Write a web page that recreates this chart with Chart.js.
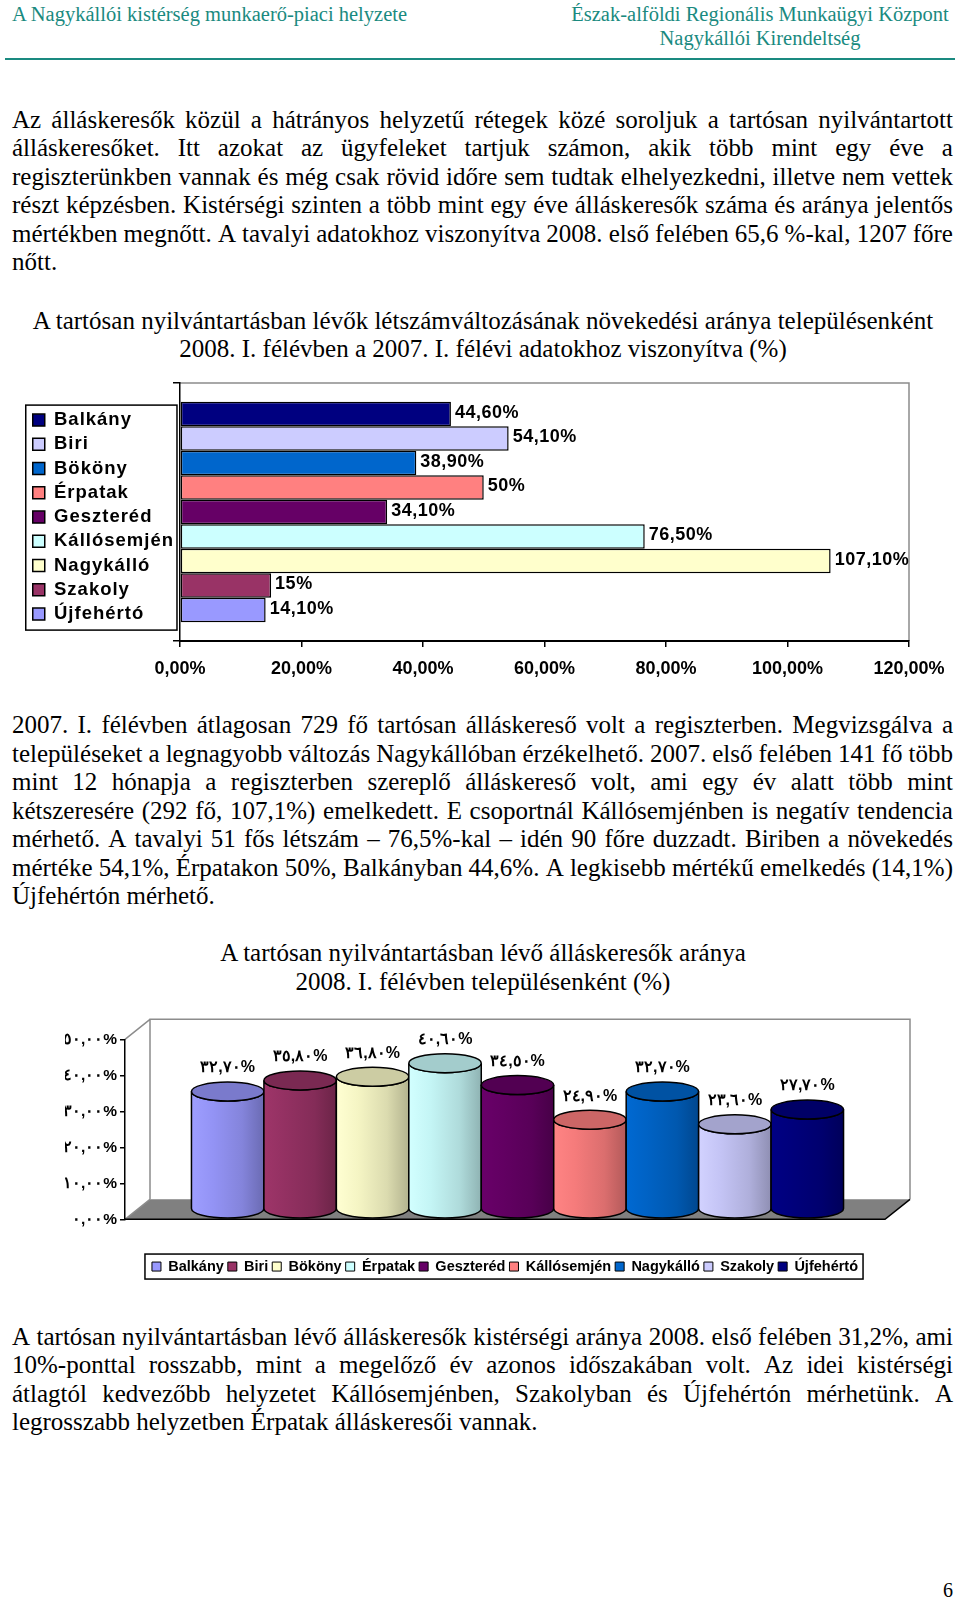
<!DOCTYPE html>
<html lang="hu">
<head>
<meta charset="utf-8">
<title>A Nagykállói kistérség munkaerő-piaci helyzete</title>
<script src="https://cdn.jsdelivr.net/npm/chart.js@4.4.1/dist/chart.umd.min.js"></script>
<style>
  html, body { margin: 0; padding: 0; background: #fff; }
  body {
    width: 960px; height: 1598px; position: relative; overflow: hidden;
    font-family: "Liberation Serif", "Times New Roman", serif; color: #000;
  }
  .abs { position: absolute; }
  .head { color: #1a8a80; font-size: 20.5px; line-height: 24.4px; white-space: nowrap; }
  .rule { left: 5px; width: 950px; top: 58px; height: 2px; background: #1a8a80; }
  .para { left: 12px; width: 941px; font-size: 25px; line-height: 28.55px; }
  .para .line { height: 28.55px; white-space: nowrap; }
  .para .line.justify { display: flex; justify-content: space-between; }
  .title { left: 0; width: 966px; text-align: center; font-size: 25px; line-height: 28.55px; white-space: nowrap; }
  canvas { display: block; }
</style>
</head>
<body>
<div class="abs head" style="left:12px; top:2px;">A Nagykállói kistérség munkaerő-piaci helyzete</div>
<div class="abs head" style="left:560px; top:2px; width:400px; text-align:center;">Észak-alföldi Regionális Munkaügyi Központ<br>Nagykállói Kirendeltség</div>
<div class="abs rule"></div>

<div id="para1" class="abs para" style="top:105.5px;"></div>

<div class="abs title" style="top:306.5px;">A tartósan nyilvántartásban lévők létszámváltozásának növekedési aránya településenként<br>2008. I. félévben a 2007. I. félévi adatokhoz viszonyítva (%)</div>

<div class="abs" style="left:0; top:370px;"><canvas id="growth-chart" width="960" height="320"></canvas></div>

<div id="para2" class="abs para" style="top:711px;"></div>

<div class="abs title" style="top:939px;">A tartósan nyilvántartásban lévő álláskeresők aránya<br>2008. I. félévben településenként (%)</div>

<div class="abs" style="left:0; top:1000px;"><canvas id="share-chart" width="960" height="290"></canvas></div>

<div id="para3" class="abs para" style="top:1322.5px;"></div>

<div class="abs" style="left:897px; top:1578px; width:56px; text-align:right; font-size:20px; line-height:24px;">6</div>

<script>
/* global Chart */

// Settlements of the micro-region, in the order both charts list them.
const TOWNS = [
  "Balkány",
  "Biri",
  "Bököny",
  "Érpatak",
  "Geszteréd",
  "Kállósemjén",
  "Nagykálló",
  "Szakoly",
  "Újfehértó",
];

// Chart 1: growth of long-term job seekers, 2008 H1 vs 2007 H1 (%).
const GROWTH_VALUES = [44.6, 54.1, 38.9, 50, 34.1, 76.5, 107.1, 15, 14.1];
const GROWTH_COLORS = [
  "#000080",
  "#ccccff",
  "#0066cc",
  "#ff8080",
  "#660066",
  "#ccffff",
  "#ffffcc",
  "#993366",
  "#9999ff",
];
const GROWTH_TICKS = [0, 20, 40, 60, 80, 100, 120];

// Chart 2: share of long-term job seekers, 2008 H1 (%).
const SHARE_VALUES = [32.7, 35.8, 36.8, 40.6, 34.5, 24.9, 32.7, 23.6, 27.7];
const SHARE_COLORS = [
  "#9999ff",
  "#993366",
  "#ffffcc",
  "#ccffff",
  "#660066",
  "#ff8080",
  "#0066cc",
  "#ccccff",
  "#000080",
];
const SHARE_TICKS = [0, 10, 20, 30, 40, 50];

const PARA_1 = [
  "Az álláskeresők közül a hátrányos helyzetű rétegek közé soroljuk a tartósan nyilvántartott",
  "álláskeresőket. Itt azokat az ügyfeleket tartjuk számon, akik több mint egy éve a",
  "regiszterünkben vannak és még csak rövid időre sem tudtak elhelyezkedni, illetve nem vettek",
  "részt képzésben. Kistérségi szinten a több mint egy éve álláskeresők száma és aránya jelentős",
  "mértékben megnőtt. A tavalyi adatokhoz viszonyítva 2008. első felében 65,6 %-kal, 1207 főre",
  "nőtt.",
];

const PARA_2 = [
  "2007. I. félévben átlagosan 729 fő tartósan álláskereső volt a regiszterben. Megvizsgálva a",
  "településeket a legnagyobb változás Nagykállóban érzékelhető. 2007. első felében 141 fő több",
  "mint 12 hónapja a regiszterben szereplő álláskereső volt, ami egy év alatt több mint",
  "kétszeresére (292 fő, 107,1%) emelkedett. E csoportnál Kállósemjénben is negatív tendencia",
  "mérhető. A tavalyi 51 fős létszám – 76,5%-kal – idén 90 főre duzzadt. Biriben a növekedés",
  "mértéke 54,1%, Érpatakon 50%, Balkányban 44,6%. A legkisebb mértékű emelkedés (14,1%)",
  "Újfehértón mérhető.",
];

const PARA_3 = [
  "A tartósan nyilvántartásban lévő álláskeresők kistérségi aránya 2008. első felében 31,2%, ami",
  "10%-ponttal rosszabb, mint a megelőző év azonos időszakában volt. Az idei kistérségi",
  "átlagtól kedvezőbb helyzetet Kállósemjénben, Szakolyban és Újfehértón mérhetünk. A",
  "legrosszabb helyzetben Érpatak álláskeresői vannak.",
];

const SANS = '"Liberation Sans", Arial, sans-serif';
const ARABIC_DIGITS = "٠١٢٣٤٥٦٧٨٩";

// 3D projection offset from the front plane to the back wall (chart 2).
const DEPTH_X = 25;
const DEPTH_Y = -20;
const CYLINDER_RY = 9.5;

Chart.defaults.font.family = SANS;
Chart.defaults.color = "#000";

function renderParagraph(id, lines) {
  const box = document.getElementById(id);
  lines.forEach((text, index) => {
    const row = document.createElement("div");
    row.className = "line";
    if (index === lines.length - 1) {
      row.textContent = text;
    } else {
      row.classList.add("justify");
      text.split(" ").forEach((word) => {
        const span = document.createElement("span");
        span.textContent = word;
        row.appendChild(span);
      });
    }
    box.appendChild(row);
  });
}

function growthLabel(value) {
  if (Number.isInteger(value)) {
    return `${value}%`;
  }
  return `${value.toFixed(2).replace(".", ",")}%`;
}

function shareLabel(value) {
  const text = value.toFixed(2).replace(".", ",");
  return `${text.replace(/[0-9]/g, (d) => ARABIC_DIGITS[d])}%`;
}

function shade(hex, factor) {
  const n = parseInt(hex.slice(1), 16);
  const channels = [(n >> 16) & 255, (n >> 8) & 255, n & 255].map((c) =>
    Math.max(0, Math.min(255, Math.round(c * factor)))
  );
  return `rgb(${channels.join(",")})`;
}

// ---- Chart 1: horizontal bars --------------------------------------------

const growthDecor = {
  id: "growthDecor",
  beforeDraw(chart) {
    // legend text in the original is slightly letter-spaced
    chart.ctx.letterSpacing = "1px";
  },
  beforeDatasetsDraw(chart) {
    const { ctx, chartArea: area } = chart;
    ctx.letterSpacing = "0px";
    ctx.save();
    ctx.strokeStyle = "#8c8c8c";
    ctx.lineWidth = 1.5;
    ctx.beginPath();
    ctx.moveTo(area.left, area.top);
    ctx.lineTo(area.right, area.top);
    ctx.lineTo(area.right, area.bottom);
    ctx.stroke();
    ctx.restore();
  },
  afterDatasetsDraw(chart) {
    const { ctx } = chart;
    ctx.save();
    ctx.font = `bold 18px ${SANS}`;
    ctx.fillStyle = "#000";
    ctx.textAlign = "left";
    ctx.textBaseline = "middle";
    ctx.letterSpacing = "0.5px";
    chart.data.datasets.forEach((dataset, index) => {
      const bar = chart.getDatasetMeta(index).data[0];
      ctx.fillText(growthLabel(dataset.data[0]), bar.x + 4, bar.y - 1);
    });
    ctx.restore();
  },
  afterDraw(chart) {
    const { ctx, legend } = chart;
    const boxes = legend.legendHitBoxes;
    if (!boxes || !boxes.length) {
      return;
    }
    const labelOpts = legend.options.labels;
    ctx.save();
    ctx.font = `bold ${labelOpts.font.size}px ${SANS}`;
    ctx.letterSpacing = "1px";
    const textWidth = Math.max(
      ...legend.legendItems.map((item) => ctx.measureText(item.text).width)
    );
    const first = boxes[0];
    const last = boxes[boxes.length - 1];
    const left = first.left - 7;
    const right =
      first.left + labelOpts.boxWidth + labelOpts.font.size / 2 + textWidth + 3;
    const top = first.top + first.height / 2 - 15;
    const bottom = last.top + last.height / 2 + 16;
    ctx.letterSpacing = "0px";
    ctx.strokeStyle = "#000";
    ctx.lineWidth = 1.5;
    ctx.strokeRect(left, top, right - left, bottom - top);
    ctx.restore();
  },
};

new Chart(document.getElementById("growth-chart"), {
  type: "bar",
  data: {
    labels: [""],
    datasets: TOWNS.map((town, index) => ({
      label: town,
      data: [GROWTH_VALUES[index]],
      backgroundColor: GROWTH_COLORS[index],
      borderColor: "#000",
      borderWidth: 1.5,
      borderSkipped: false,
    })),
  },
  options: {
    indexAxis: "y",
    responsive: false,
    animation: false,
    categoryPercentage: 0.855,
    barPercentage: 1,
    layout: { padding: { left: 27, top: 13, right: 51, bottom: 9 } },
    scales: {
      x: {
        min: 0,
        max: 120,
        afterBuildTicks: (scale) => {
          scale.ticks = GROWTH_TICKS.map((value) => ({ value }));
        },
        afterFit: (scale) => {
          scale.height = 40;
        },
        grid: {
          drawOnChartArea: false,
          tickLength: 6,
          color: "#000",
          lineWidth: 1.5,
        },
        border: { color: "#000", width: 2, z: 1 },
        ticks: {
          z: 1,
          padding: 11,
          font: { size: 18, weight: "bold" },
          color: "#000",
          callback: (value) => `${value.toFixed(2).replace(".", ",")}%`,
        },
      },
      y: {
        afterFit: (scale) => {
          scale.width = 7;
        },
        grid: {
          drawOnChartArea: false,
          tickLength: 7,
          color: "#000",
          lineWidth: 1.5,
        },
        border: { color: "#000", width: 1.5, z: 1 },
        ticks: { display: false, z: 1 },
      },
    },
    plugins: {
      legend: {
        position: "left",
        fullSize: false,
        // empty title only nudges the item column down a little
        title: { display: true, text: "", font: { size: 1 }, padding: { top: 9, bottom: 0 } },
        labels: {
          boxWidth: 12,
          boxHeight: 12,
          padding: 5.75,
          color: "#000",
          font: { size: 18.5, weight: "bold" },
        },
      },
      tooltip: { enabled: false },
    },
  },
  plugins: [growthDecor],
});

// ---- Chart 2: 3D cylinders -------------------------------------------------

function drawCylinder(ctx, cx, top, bottom, rx, ry, color) {
  const left = cx - rx;
  const right = cx + rx;
  const body = ctx.createLinearGradient(left, 0, right, 0);
  body.addColorStop(0, shade(color, 1.03));
  body.addColorStop(0.3, shade(color, 0.96));
  body.addColorStop(0.7, shade(color, 0.86));
  body.addColorStop(1, shade(color, 0.7));

  ctx.beginPath();
  ctx.moveTo(left, top);
  ctx.lineTo(left, bottom);
  ctx.ellipse(cx, bottom, rx, ry, 0, Math.PI, 0, true);
  ctx.lineTo(right, top);
  ctx.ellipse(cx, top, rx, ry, 0, 0, Math.PI, false);
  ctx.closePath();
  ctx.fillStyle = body;
  ctx.fill();
  ctx.stroke();

  ctx.beginPath();
  ctx.ellipse(cx, top, rx, ry, 0, 0, Math.PI * 2);
  ctx.fillStyle = shade(color, 0.8);
  ctx.fill();
  ctx.stroke();
}

const shareDecor = {
  id: "shareDecor",
  beforeDraw(chart) {
    const { ctx, chartArea: a } = chart;
    ctx.save();
    // floor
    ctx.beginPath();
    ctx.moveTo(a.left, a.bottom);
    ctx.lineTo(a.right, a.bottom);
    ctx.lineTo(a.right + DEPTH_X, a.bottom + DEPTH_Y);
    ctx.lineTo(a.left + DEPTH_X, a.bottom + DEPTH_Y);
    ctx.closePath();
    ctx.fillStyle = "#808080";
    ctx.fill();
    // back wall and side wall edges
    ctx.strokeStyle = "#8c8c8c";
    ctx.lineWidth = 1.5;
    ctx.beginPath();
    ctx.moveTo(a.left + DEPTH_X, a.bottom + DEPTH_Y);
    ctx.lineTo(a.left + DEPTH_X, a.top + DEPTH_Y);
    ctx.lineTo(a.right + DEPTH_X, a.top + DEPTH_Y);
    ctx.lineTo(a.right + DEPTH_X, a.bottom + DEPTH_Y);
    ctx.moveTo(a.left, a.top);
    ctx.lineTo(a.left + DEPTH_X, a.top + DEPTH_Y);
    ctx.moveTo(a.left, a.bottom);
    ctx.lineTo(a.left + DEPTH_X, a.bottom + DEPTH_Y);
    ctx.stroke();
    // front and right floor edges
    ctx.strokeStyle = "#000";
    ctx.beginPath();
    ctx.moveTo(a.left, a.bottom);
    ctx.lineTo(a.right, a.bottom);
    ctx.lineTo(a.right + DEPTH_X, a.bottom + DEPTH_Y);
    ctx.stroke();
    ctx.restore();
  },
  beforeDatasetsDraw(chart) {
    const { ctx } = chart;
    ctx.save();
    ctx.strokeStyle = "#000";
    ctx.lineWidth = 1.5;
    chart.data.datasets.forEach((dataset, index) => {
      const bar = chart.getDatasetMeta(index).data[0];
      const cx = bar.x + DEPTH_X / 2;
      const top = bar.y + DEPTH_Y / 2;
      const bottom = bar.base + DEPTH_Y / 2;
      drawCylinder(ctx, cx, top, bottom, bar.width / 2, CYLINDER_RY, SHARE_COLORS[index]);
    });

    ctx.font = `bold 16px ${SANS}`;
    ctx.fillStyle = "#000";
    ctx.textAlign = "center";
    ctx.textBaseline = "middle";
    chart.data.datasets.forEach((dataset, index) => {
      const bar = chart.getDatasetMeta(index).data[0];
      const cx = bar.x + DEPTH_X / 2;
      const top = bar.y + DEPTH_Y / 2;
      ctx.fillText(shareLabel(dataset.data[0]), cx, top - CYLINDER_RY - 14);
    });
    ctx.restore();
    // the cylinders above replace the flat bars
    return false;
  },
  afterDraw(chart) {
    const { ctx, legend } = chart;
    const boxes = legend.legendHitBoxes;
    if (!boxes || !boxes.length) {
      return;
    }
    const first = boxes[0];
    const last = boxes[boxes.length - 1];
    ctx.save();
    ctx.strokeStyle = "#000";
    ctx.lineWidth = 1.5;
    const left = first.left - 7;
    const right = last.left + last.width + 5;
    const top = first.top + first.height / 2 - 12.5;
    ctx.strokeRect(left, top, right - left, 25);
    ctx.restore();
  },
};

new Chart(document.getElementById("share-chart"), {
  type: "bar",
  data: {
    labels: [""],
    datasets: TOWNS.map((town, index) => ({
      label: town,
      data: [SHARE_VALUES[index]],
      backgroundColor: SHARE_COLORS[index],
      borderColor: "#000",
      borderWidth: 1,
    })),
  },
  options: {
    responsive: false,
    animation: false,
    categoryPercentage: 0.858,
    barPercentage: 1,
    layout: { padding: { left: 65, top: 39.3, right: 75, bottom: 6.2 } },
    scales: {
      x: {
        afterFit: (scale) => {
          scale.height = 36;
        },
        grid: { display: false },
        border: { display: false },
        ticks: { display: false },
      },
      y: {
        min: 0,
        max: 50,
        afterBuildTicks: (scale) => {
          scale.ticks = SHARE_TICKS.map((value) => ({ value }));
        },
        afterFit: (scale) => {
          scale.width = 60;
        },
        grid: {
          drawOnChartArea: false,
          tickLength: 5,
          color: "#000",
          lineWidth: 1.5,
        },
        border: { color: "#000", width: 1.5 },
        ticks: {
          padding: 3,
          font: { size: 15.5, weight: "bold" },
          color: "#000",
          callback: (value) => shareLabel(value),
        },
      },
    },
    plugins: {
      legend: {
        position: "bottom",
        fullSize: false,
        labels: {
          boxWidth: 9,
          boxHeight: 9,
          padding: 4,
          color: "#000",
          font: { size: 14.5, weight: "bold" },
        },
      },
      tooltip: { enabled: false },
    },
  },
  plugins: [shareDecor],
});

renderParagraph("para1", PARA_1);
renderParagraph("para2", PARA_2);
renderParagraph("para3", PARA_3);
</script>
</body>
</html>
